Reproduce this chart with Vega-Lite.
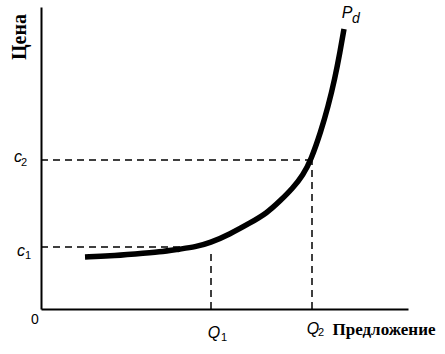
{
  "$schema": "https://vega.github.io/schema/vega-lite/v6.json",
  "width": 367,
  "height": 302,
  "autosize": {"type": "none"},
  "padding": {"left": 41, "top": 7, "right": 37, "bottom": 45},
  "background": "white",
  "config": {
    "view": {"stroke": null},
    "axis": {"labels": false, "ticks": false, "grid": false, "domainColor": "black", "domainWidth": 2}
  },
  "datasets": {
    "curve": [
      {"q": 44, "p": 52}, {"q": 69, "p": 53}, {"q": 94, "p": 55}, {"q": 119, "p": 57},
      {"q": 139, "p": 60}, {"q": 154, "p": 62}, {"q": 169, "p": 66}, {"q": 189, "p": 75},
      {"q": 209, "p": 86}, {"q": 226, "p": 96}, {"q": 239, "p": 108}, {"q": 252, "p": 121},
      {"q": 262, "p": 134}, {"q": 270, "p": 149}, {"q": 280, "p": 178}, {"q": 287, "p": 202},
      {"q": 294, "p": 231}, {"q": 299, "p": 257}, {"q": 303, "p": 280}
    ],
    "guides": [
      {"x": 0, "x2": 152, "y": 62, "y2": 62},
      {"x": 170, "x2": 170, "y": 0, "y2": 59},
      {"x": 0, "x2": 271, "y": 149, "y2": 149},
      {"x": 271, "x2": 271, "y": 0, "y2": 149}
    ],
    "letters": [
      {"t": "c", "x": -23, "y": 152},
      {"t": "c", "x": -20, "y": 58},
      {"t": "Q", "x": 173, "y": -24},
      {"t": "Q", "x": 272, "y": -20},
      {"t": "P", "x": 306, "y": 296}
    ],
    "subs": [
      {"t": "2", "x": -17, "y": 146},
      {"t": "1", "x": -13, "y": 53},
      {"t": "1", "x": 183, "y": -29},
      {"t": "2", "x": 280, "y": -24}
    ],
    "subd": [{"t": "d", "x": 315, "y": 290}],
    "zero": [{"t": "0", "x": -6, "y": -11}],
    "titles": [
      {"t": "Предложение", "x": 343, "y": -21, "a": 0, "s": 17},
      {"t": "Цена", "x": -21, "y": 272, "a": 270, "s": 20}
    ]
  },
  "layer": [
    {
      "data": {"name": "guides"},
      "mark": {"type": "rule", "strokeDash": [7, 5], "strokeWidth": 1.5, "color": "black"},
      "encoding": {
        "x": {"field": "x", "type": "quantitative", "scale": {"domain": [0, 367], "nice": false, "zero": false}, "axis": {"title": null}},
        "x2": {"field": "x2"},
        "y": {"field": "y", "type": "quantitative", "scale": {"domain": [0, 302], "nice": false, "zero": false}, "axis": {"title": null}},
        "y2": {"field": "y2"}
      }
    },
    {
      "data": {"name": "curve"},
      "mark": {"type": "line", "interpolate": "basis", "strokeWidth": 5.5, "color": "black", "strokeCap": "butt"},
      "encoding": {
        "x": {"field": "q", "type": "quantitative", "axis": {"title": null}},
        "y": {"field": "p", "type": "quantitative", "axis": {"title": null}}
      }
    },
    {
      "data": {"name": "letters"},
      "mark": {"type": "text", "font": "Liberation Sans", "fontStyle": "italic", "fontSize": 16, "align": "center", "baseline": "middle", "color": "black"},
      "encoding": {
        "x": {"field": "x", "type": "quantitative", "axis": {"title": null}},
        "y": {"field": "y", "type": "quantitative", "axis": {"title": null}},
        "text": {"field": "t"}
      }
    },
    {
      "data": {"name": "subs"},
      "mark": {"type": "text", "font": "Liberation Sans", "fontSize": 11, "align": "center", "baseline": "middle", "color": "black"},
      "encoding": {
        "x": {"field": "x", "type": "quantitative", "axis": {"title": null}},
        "y": {"field": "y", "type": "quantitative", "axis": {"title": null}},
        "text": {"field": "t"}
      }
    },
    {
      "data": {"name": "subd"},
      "mark": {"type": "text", "font": "Liberation Sans", "fontStyle": "italic", "fontSize": 14, "align": "center", "baseline": "middle", "color": "black"},
      "encoding": {
        "x": {"field": "x", "type": "quantitative", "axis": {"title": null}},
        "y": {"field": "y", "type": "quantitative", "axis": {"title": null}},
        "text": {"field": "t"}
      }
    },
    {
      "data": {"name": "zero"},
      "mark": {"type": "text", "font": "Liberation Sans", "fontSize": 14, "align": "center", "baseline": "middle", "color": "black"},
      "encoding": {
        "x": {"field": "x", "type": "quantitative", "axis": {"title": null}},
        "y": {"field": "y", "type": "quantitative", "axis": {"title": null}},
        "text": {"field": "t"}
      }
    },
    {
      "data": {"name": "titles"},
      "mark": {"type": "text", "font": "Liberation Serif", "fontWeight": "bold", "align": "center", "baseline": "middle", "color": "black"},
      "encoding": {
        "x": {"field": "x", "type": "quantitative", "axis": {"title": null}},
        "y": {"field": "y", "type": "quantitative", "axis": {"title": null}},
        "text": {"field": "t"},
        "angle": {"field": "a", "type": "quantitative", "scale": null},
        "size": {"field": "s", "type": "quantitative", "scale": null}
      }
    }
  ]
}
